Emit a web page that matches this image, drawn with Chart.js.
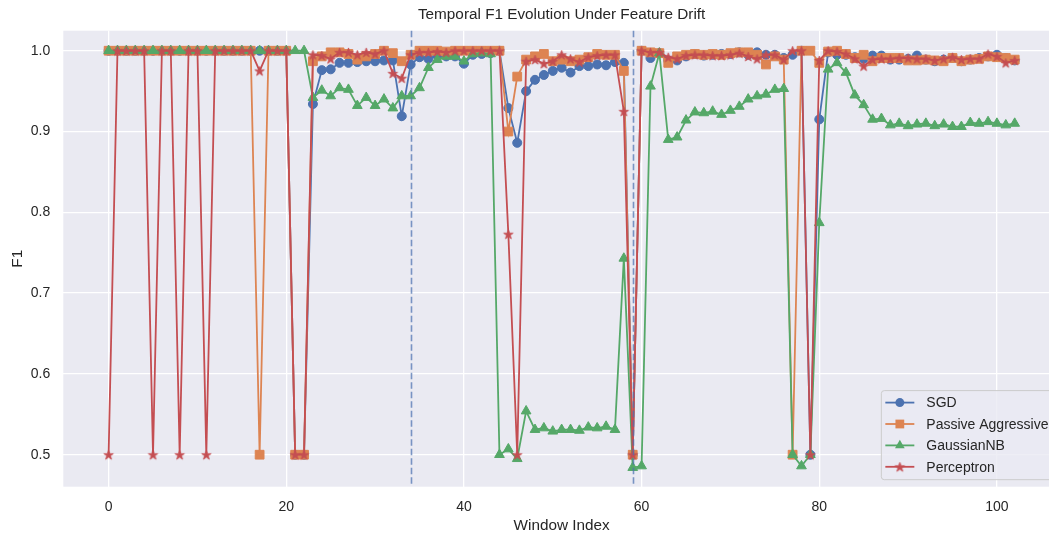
<!DOCTYPE html>
<html>
<head>
<meta charset="utf-8">
<script src="https://cdn.jsdelivr.net/npm/chart.js@4.4.1/dist/chart.umd.min.js"></script>
<style>
  html, body { margin: 0; padding: 0; background: #ffffff; overflow: hidden; }
  #wrap { position: absolute; left: 0; top: 0; width: 1060px; height: 535px; }
</style>
</head>
<body>
<div id="wrap"><canvas id="f1Chart" width="1060" height="535"></canvas></div>
<script>
// F1 per window
const sgd = [
  1, 1, 1, 1, 1, 1, 1, 1, 1, 1,
  1, 1, 1, 1, 1, 1, 1, 1, 1, 1,
  1, 0.5, 0.5, 0.934, 0.976, 0.977, 0.985, 0.985, 0.986, 0.987,
  0.987, 0.988, 0.988, 0.919, 0.983, 0.992, 0.990, 0.994, 0.993, 0.993,
  0.984, 0.995, 0.996, 0.997, 1.0, 0.929, 0.886, 0.950, 0.964, 0.970,
  0.975, 0.979, 0.973, 0.981, 0.981, 0.983, 0.982, 0.986, 0.985, 0.5,
  1.0, 0.991, 0.997, 0.988, 0.988, 0.993, 0.996, 0.994, 0.995, 0.996,
  0.996, 0.998, 0.995, 0.998, 0.995, 0.995, 0.991, 0.995, 1.0, 0.5,
  0.915, 0.998, 0.995, 0.995, 0.992, 0.990, 0.994, 0.994, 0.989, 0.989,
  0.990, 0.994, 0.989, 0.987, 0.989, 0.991, 0.987, 0.989, 0.991, 0.993,
  0.995, 0.991, 0.988
];
const passiveAggressive = [
  1, 1, 1, 1, 1, 1, 1, 1, 1, 1,
  1, 1, 1, 1, 1, 1, 1, 0.5, 1, 1,
  1, 0.5, 0.5, 0.987, 0.993, 0.998, 0.998, 0.996, 0.989, 0.993,
  0.996, 1.0, 0.997, 0.987, 0.995, 1.0, 1.0, 1.0, 0.999, 1.0,
  1.0, 1.0, 1.0, 1.0, 1.0, 0.900, 0.968, 0.989, 0.993, 0.996,
  0.987, 0.989, 0.987, 0.989, 0.992, 0.996, 0.995, 0.995, 0.975, 0.5,
  1.0, 0.998, 0.997, 0.985, 0.993, 0.995, 0.996, 0.995, 0.996, 0.995,
  0.997, 0.998, 0.998, 0.995, 0.983, 0.993, 0.989, 0.5, 1.0, 1.0,
  0.985, 0.999, 1.0, 0.996, 0.991, 0.995, 0.987, 0.991, 0.991, 0.991,
  0.988, 0.988, 0.989, 0.988, 0.987, 0.991, 0.987, 0.989, 0.990, 0.993,
  0.992, 0.991, 0.989
];
const gaussianNB = [
  1, 1, 1, 1, 1, 1, 1, 1, 1, 1,
  1, 1, 1, 1, 1, 1, 1, 1, 1, 1,
  1, 1, 1, 0.942, 0.951, 0.944, 0.954, 0.952, 0.932, 0.942,
  0.932, 0.940, 0.929, 0.944, 0.944, 0.954, 0.979, 0.989, 0.993, 0.993,
  0.987, 0.996, 0.997, 0.996, 0.500, 0.507, 0.495, 0.554, 0.531, 0.533,
  0.529, 0.531, 0.531, 0.530, 0.534, 0.533, 0.535, 0.531, 0.743, 0.484,
  0.486, 0.956, 0.997, 0.890, 0.893, 0.914, 0.924, 0.923, 0.925, 0.921,
  0.926, 0.931, 0.940, 0.944, 0.946, 0.952, 0.953, 0.500, 0.486, 0.500,
  0.787, 0.977, 0.985, 0.973, 0.945, 0.933, 0.915, 0.916, 0.908, 0.910,
  0.907, 0.909, 0.910, 0.907, 0.909, 0.906, 0.906, 0.911, 0.910, 0.912,
  0.910, 0.908, 0.910
];
const perceptron = [
  0.5, 1, 1, 1, 1, 0.5, 1, 1, 0.5, 1,
  1, 0.5, 1, 1, 1, 1, 1, 0.975, 1, 1,
  1, 0.5, 0.5, 0.995, 0.994, 0.990, 0.998, 0.998, 0.995, 0.998,
  0.996, 1.0, 0.972, 0.966, 0.995, 0.998, 0.998, 0.999, 0.998, 1.0,
  1.0, 1.0, 1.0, 1.0, 1.0, 0.773, 0.5, 0.987, 0.989, 0.984,
  0.987, 0.995, 0.990, 0.986, 0.992, 0.994, 0.995, 0.995, 0.925, 0.5,
  1.0, 0.998, 0.998, 0.992, 0.990, 0.994, 0.995, 0.995, 0.994, 0.994,
  0.995, 0.997, 0.993, 0.990, 0.995, 0.995, 0.989, 1.0, 1.0, 0.5,
  0.988, 1.0, 0.999, 0.996, 0.990, 0.981, 0.989, 0.990, 0.990, 0.991,
  0.991, 0.990, 0.990, 0.988, 0.990, 0.992, 0.989, 0.990, 0.990, 0.996,
  0.993, 0.985, 0.988
];
const windows = sgd.map((_, i) => i);
const driftPoints = [34, 59];
const xTicks = [0, 20, 40, 60, 80, 100];
const yTicks = [0.5, 0.6, 0.7, 0.8, 0.9, 1.0];
const chartTitle = 'Temporal F1 Evolution Under Feature Drift';

const FONT = "'Liberation Sans', Arial, sans-serif";
const TEXT = '#262626';

function makeStar(color, r) {
  const s = Math.ceil(r * 2 + 3);
  const c = document.createElement('canvas');
  c.width = s; c.height = s;
  const g = c.getContext('2d');
  g.beginPath();
  for (let k = 0; k < 10; k++) {
    const rad = k % 2 === 0 ? r : r * 0.4;
    const a = -Math.PI / 2 + k * Math.PI / 5;
    g.lineTo(s / 2 + rad * Math.cos(a), s / 2 + 0.5 + rad * Math.sin(a));
  }
  g.closePath();
  g.fillStyle = color;
  g.fill();
  g.lineWidth = 0.8;
  g.strokeStyle = color;
  g.stroke();
  return c;
}
const starImg = makeStar('#C44E52', 5);

const series = [
  { label: 'SGD', data: sgd, color: '#4C72B0', style: 'circle', radius: 4.5, order: 3 },
  { label: 'Passive Aggressive', data: passiveAggressive, color: '#DD8452', style: 'rect', radius: 6.2, order: 2 },
  { label: 'GaussianNB', data: gaussianNB, color: '#55A868', style: 'triangle', radius: 5.6, order: 1 },
  { label: 'Perceptron', data: perceptron, color: '#C44E52', style: starImg, radius: 5, order: 0 }
];

// axes background + title centred over the axes (like matplotlib)
const plotBg = {
  id: 'plotBg',
  beforeDraw(chart) {
    const { ctx, chartArea: a } = chart;
    ctx.save();
    ctx.fillStyle = '#EAEAF2';
    ctx.fillRect(a.left, a.top, a.right - a.left, a.bottom - a.top);
    ctx.font = '15.3px ' + FONT;
    ctx.fillStyle = TEXT;
    ctx.textAlign = 'center';
    ctx.textBaseline = 'middle';
    ctx.fillText(chartTitle, (a.left + a.right) / 2, 15);
    ctx.restore();
  }
};

const driftLines = {
  id: 'driftLines',
  afterDatasetsDraw(chart) {
    const { ctx, chartArea: a } = chart;
    const xs = chart.scales.x;
    ctx.save();
    ctx.strokeStyle = 'rgba(76,114,176,0.72)';
    ctx.lineWidth = 1.6;
    ctx.setLineDash([6.5, 3]);
    driftPoints.forEach(d => {
      const px = Math.round(xs.getPixelForValue(d)) + 0.5;
      ctx.beginPath();
      ctx.moveTo(px, a.top);
      ctx.lineTo(px, a.bottom);
      ctx.stroke();
    });
    ctx.restore();
  }
};

function drawMarker(ctx, s, x, y) {
  ctx.fillStyle = s.color;
  ctx.strokeStyle = s.color;
  ctx.lineWidth = 1;
  if (s.style === 'circle') {
    ctx.beginPath(); ctx.arc(x, y, s.radius, 0, Math.PI * 2); ctx.fill();
  } else if (s.style === 'rect') {
    const h = s.radius * Math.SQRT1_2;
    ctx.fillRect(x - h, y - h, 2 * h, 2 * h);
  } else if (s.style === 'triangle') {
    const r = s.radius;
    ctx.beginPath();
    ctx.moveTo(x, y - r);
    ctx.lineTo(x + r * 0.866, y + r * 0.5);
    ctx.lineTo(x - r * 0.866, y + r * 0.5);
    ctx.closePath(); ctx.fill();
  } else {
    ctx.drawImage(s.style, x - s.style.width / 2, y - s.style.height / 2);
  }
}

const cornerLegend = {
  id: 'cornerLegend',
  afterDraw(chart) {
    const { ctx, chartArea: a } = chart;
    ctx.save();
    ctx.font = '14px ' + FONT;
    const textW = Math.max(...series.map(s => ctx.measureText(s.label).width));
    const right = a.right - 6.5;
    const bottom = a.bottom - 7;
    const rowH = 21.4;
    const h = rowH * series.length + 3.5;
    const left = right - (45 + textW + 5);
    const top = bottom - h;
    ctx.beginPath();
    ctx.roundRect(left, top, right - left, h, 3);
    ctx.fillStyle = 'rgba(234,234,242,0.8)';
    ctx.fill();
    ctx.strokeStyle = '#cccccc';
    ctx.lineWidth = 1;
    ctx.stroke();
    series.forEach((s, i) => {
      const y = top + 12 + i * rowH;
      ctx.strokeStyle = s.color;
      ctx.lineWidth = 1.8;
      ctx.beginPath();
      ctx.moveTo(left + 4, y);
      ctx.lineTo(left + 33, y);
      ctx.stroke();
      drawMarker(ctx, s, left + 18.5, y);
      ctx.fillStyle = TEXT;
      ctx.textBaseline = 'middle';
      ctx.textAlign = 'left';
      ctx.fillText(s.label, left + 45, y + 1);
    });
    ctx.restore();
  }
};

new Chart(document.getElementById('f1Chart'), {
  type: 'line',
  data: {
    datasets: series.map(s => ({
      label: s.label,
      data: s.data.map((v, i) => ({ x: windows[i], y: v })),
      borderColor: s.color,
      backgroundColor: s.color,
      borderWidth: 1.8,
      pointStyle: s.style,
      pointRadius: s.radius,
      pointBorderWidth: 1,
      pointBackgroundColor: s.color,
      pointBorderColor: s.color,
      tension: 0,
      order: s.order
    }))
  },
  options: {
    responsive: false,
    animation: false,
    events: [],
    layout: { padding: { top: 30.7, left: 0, right: 0, bottom: 0 }, autoPadding: false },
    plugins: {
      legend: { display: false },
      tooltip: { enabled: false },
      title: { display: false }
    },
    scales: {
      x: {
        type: 'linear',
        min: -5.1,
        max: 107.1,
        afterBuildTicks: sc => { sc.ticks = xTicks.map(v => ({ value: v })); },
        afterFit: sc => { sc.height = 48.3; sc.paddingLeft = 0; sc.paddingRight = 0; },
        border: { display: false },
        grid: { color: '#ffffff', lineWidth: 1.3, drawTicks: false },
        ticks: { color: TEXT, font: { family: FONT, size: 14 }, padding: 12, maxRotation: 0 },
        title: {
          display: true, text: 'Window Index', color: TEXT,
          font: { family: FONT, size: 15.3 }, padding: { top: 0, bottom: 0 }
        }
      },
      y: {
        min: 0.4604,
        max: 1.0248,
        afterBuildTicks: sc => { sc.ticks = yTicks.map(v => ({ value: v })); },
        afterFit: sc => { sc.width = 63.3; sc.paddingTop = 0; sc.paddingBottom = 0; },
        border: { display: false },
        grid: { color: '#ffffff', lineWidth: 1.3, drawTicks: false },
        ticks: { color: TEXT, font: { family: FONT, size: 14 }, padding: 13, callback: v => v.toFixed(1) },
        title: {
          display: true, text: 'F1', color: TEXT,
          font: { family: FONT, size: 15.3 }, padding: { top: 9, bottom: 0 }
        }
      }
    }
  },
  plugins: [plotBg, driftLines, cornerLegend]
});
</script>
</body>
</html>
